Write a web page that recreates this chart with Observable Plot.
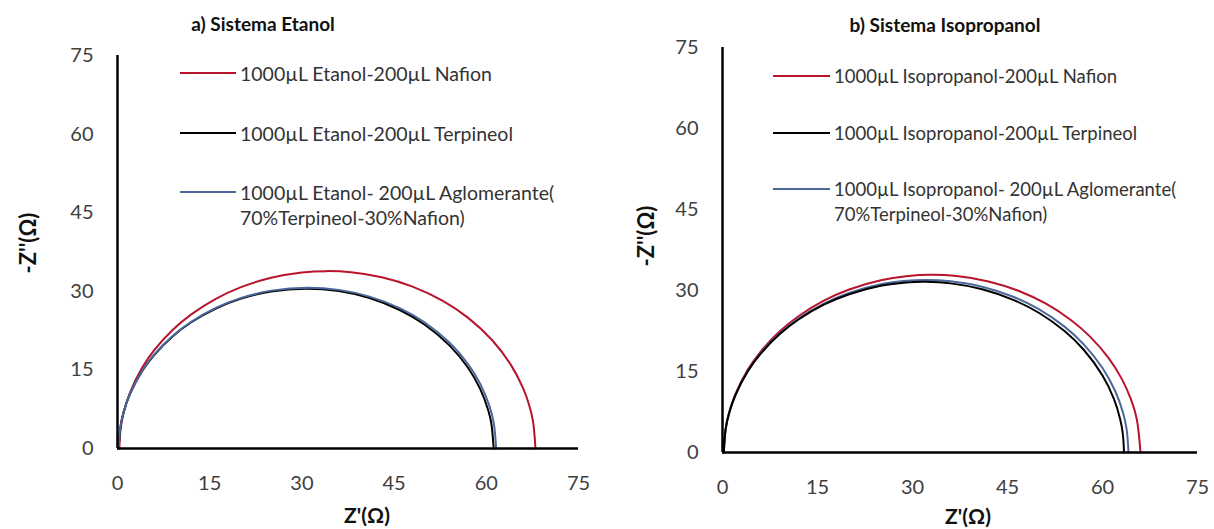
<!DOCTYPE html>
<html>
<head>
<meta charset="utf-8">
<script src="https://cdn.jsdelivr.net/npm/d3@7"></script>
<script src="https://cdn.jsdelivr.net/npm/@observablehq/plot@0.6"></script>
<style>
  html, body { margin: 0; padding: 0; background: #fff; }
  #wrap { position: relative; width: 1214px; height: 529px; overflow: hidden; font-family: Lato, "Open Sans", sans-serif; }
  .panel { position: absolute; top: 0; width: 607px; height: 529px; }
  .title { position: absolute; font-weight: bold; font-size: 19px; color: #111; white-space: nowrap; transform: translate(-50%, -50%); }
  .xlab { position: absolute; font-weight: bold; font-size: 21px; color: #111; white-space: nowrap; transform: translate(-50%, -50%); }
  .ylab { position: absolute; font-weight: bold; font-size: 22px; color: #111; white-space: nowrap; transform: translate(-50%, -50%) rotate(-90deg); }
  .leg { position: absolute; color: #333; line-height: 25px; white-space: nowrap; }
  .sw { position: absolute; height: 0; border-top: 2px solid; }
</style>
</head>
<body>
<div id="wrap"></div>
<script>
// Axis ticks shared by both panels
const ticks = [0, 15, 30, 45, 60, 75];

// a) Etanol system — Nyquist points Z' (Ω), -Z'' (Ω)
const etNafionZr = [0.3, 0.5, 1, 2, 4, 6, 9, 12, 16, 20, 25, 30, 34, 38, 43, 48, 53, 57, 61, 64, 66, 67, 67.6, 68.0];
const etNafionZi = [0, 3.67, 6.85, 10.59, 15.39, 18.80, 22.66, 25.60, 28.57, 30.75, 32.59, 33.59, 33.85, 33.63, 32.67, 30.89, 28.12, 24.97, 20.61, 15.96, 11.46, 8.17, 5.19, 0];

const etTerpZr = [0.2, 0.5, 1, 2, 4, 6, 9, 12, 16, 20, 25, 30.7, 36, 41, 46, 50, 54, 57, 59, 60.3, 60.8, 61.2];
const etTerpZi = [0, 4.27, 6.94, 10.32, 14.74, 17.89, 21.43, 24.09, 26.72, 28.56, 29.96, 30.5, 30.04, 28.71, 26.38, 23.62, 19.68, 15.45, 11.37, 7.35, 4.92, 0];

const etAglZr = [0.2, 0.5, 1, 2, 4, 6, 9, 12, 16, 20, 25, 31, 36, 41, 46, 50, 54, 57, 59, 60.5, 61.2, 61.6];
const etAglZi = [0, 4.28, 6.96, 10.36, 14.80, 17.96, 21.52, 24.19, 26.84, 28.70, 30.13, 30.70, 30.27, 28.99, 26.73, 24.04, 20.22, 16.16, 12.37, 8.14, 4.94, 0];

// b) Isopropanol system
const ipNafionZr = [0.2, 0.5, 1, 2, 4, 6, 9, 12, 16, 20, 25, 29, 33, 37, 42, 47, 51, 55, 58, 61, 63, 64.5, 65.4, 66.0];
const ipNafionZi = [0, 4.43, 7.21, 10.73, 15.35, 18.65, 22.40, 25.24, 28.11, 30.18, 31.89, 32.64, 32.9, 32.67, 31.67, 29.82, 27.60, 24.55, 21.50, 17.44, 13.73, 9.82, 6.25, 0];

const ipTerpZr = [0.2, 0.5, 1, 2, 4, 6, 9, 12, 16, 20, 25, 29, 32, 36, 41, 46, 50, 54, 57, 60, 61.8, 62.8, 63.2, 63.4];
const ipTerpZi = [0, 4.34, 7.07, 10.51, 15.03, 18.25, 21.88, 24.63, 27.37, 29.31, 30.86, 31.48, 31.6, 31.32, 30.23, 28.23, 25.83, 22.49, 19.07, 14.26, 9.93, 6.13, 3.54, 0];

const ipAglZr = [0.2, 0.5, 1, 2, 4, 6, 9, 12, 16, 20, 25, 29, 32, 36, 41, 46, 50, 54, 57, 60, 62, 63.2, 63.8, 64.1];
const ipAglZi = [0, 4.37, 7.11, 10.57, 15.11, 18.36, 22.02, 24.79, 27.57, 29.55, 31.14, 31.79, 31.95, 31.72, 30.70, 28.79, 26.50, 23.31, 20.08, 15.66, 11.39, 7.53, 4.37, 0];

const colors = { nafion: "#b8142c", terp: "#000000", agl: "#4a689c" };

const legendEt = [
  "1000µL Etanol-200µL Nafion",
  "1000µL Etanol-200µL Terpineol",
  "1000µL Etanol- 200µL Aglomerante(<br>70%Terpineol-30%Nafion)"
];
const legendIp = [
  "1000µL Isopropanol-200µL Nafion",
  "1000µL Isopropanol-200µL Terpineol",
  "1000µL Isopropanol- 200µL Aglomerante(<br>70%Terpineol-30%Nafion)"
];

const pts = (xs, ys) => xs.map((x, i) => ({ x, y: ys[i] }));

function panel({ left, margins, series, title, titlePos, xlabPos, ylabPos, legend, legPos, legSize }) {
  const div = document.createElement("div");
  div.className = "panel";
  div.style.left = left + "px";

  const svg = Plot.plot({
    width: 607,
    height: 529,
    ...margins,
    style: { fontFamily: "Lato, 'Open Sans', sans-serif", fontSize: "20px", color: "#404040", background: "transparent", overflow: "visible" },
    x: { domain: [0, 75], ticks },
    y: { domain: [0, 75], ticks },
    marks: [
      Plot.axisX({ ticks, tickSize: 0, tickPadding: 27, label: null, fontSize: 20 }),
      Plot.axisY({ ticks, tickSize: 0, tickPadding: 24, label: null, fontSize: 20 }),
      ...series.map(s => Plot.line(pts(s.xs, s.ys), { x: "x", y: "y", stroke: s.color, strokeWidth: 2, curve: "catmull-rom" })),
      Plot.ruleY([0], { stroke: "#000", strokeWidth: 2.5 }),
      Plot.ruleX([0], { stroke: "#000", strokeWidth: 2.5 })
    ]
  });
  div.appendChild(svg);

  const add = (cls, html, x, y) => {
    const e = document.createElement("div");
    e.className = cls;
    e.innerHTML = html;
    e.style.left = x + "px";
    e.style.top = y + "px";
    div.appendChild(e);
    return e;
  };
  add("title", title, titlePos[0], titlePos[1]);
  add("xlab", "Z'(Ω)", xlabPos[0], xlabPos[1]);
  add("ylab", "-Z''(Ω)", ylabPos[0], ylabPos[1]);

  legend.forEach((txt, i) => {
    const sw = document.createElement("div");
    sw.className = "sw";
    sw.style.borderColor = series[i].legendColor;
    sw.style.left = legPos.x + "px";
    sw.style.width = legPos.w + "px";
    sw.style.top = (legPos.ys[i] - 1) + "px";
    div.appendChild(sw);
    const t = add("leg", txt, legPos.x + legPos.w + 4, legPos.ys[i] - 12.5);
    t.style.fontSize = legSize + "px";
  });
  return div;
}

const wrap = document.getElementById("wrap");

wrap.appendChild(panel({
  left: 0,
  margins: { marginLeft: 117, marginRight: 29, marginTop: 55, marginBottom: 81 },
  series: [
    { xs: etNafionZr, ys: etNafionZi, color: colors.nafion, legendColor: colors.nafion },
    { xs: etTerpZr, ys: etTerpZi, color: colors.terp, legendColor: colors.terp },
    { xs: etAglZr, ys: etAglZi, color: colors.agl, legendColor: colors.agl }
  ],
  title: "a) Sistema Etanol",
  titlePos: [263, 23],
  xlabPos: [367, 514],
  ylabPos: [27, 243],
  legend: legendEt,
  legPos: { x: 180, w: 56, ys: [73, 133, 192] },
  legSize: 19.5
}));

wrap.appendChild(panel({
  left: 607,
  margins: { marginLeft: 115, marginRight: 17, marginTop: 47, marginBottom: 77 },
  series: [
    { xs: ipNafionZr, ys: ipNafionZi, color: colors.nafion, legendColor: colors.nafion },
    { xs: ipAglZr, ys: ipAglZi, color: colors.agl, legendColor: colors.terp },
    { xs: ipTerpZr, ys: ipTerpZi, color: colors.terp, legendColor: colors.agl }
  ],
  title: "b) Sistema Isopropanol",
  titlePos: [338, 24],
  xlabPos: [361, 515],
  ylabPos: [38, 236],
  legend: legendIp,
  legPos: { x: 166, w: 57, ys: [76, 133, 189] },
  legSize: 18.5
}));
</script>
</body>
</html>
